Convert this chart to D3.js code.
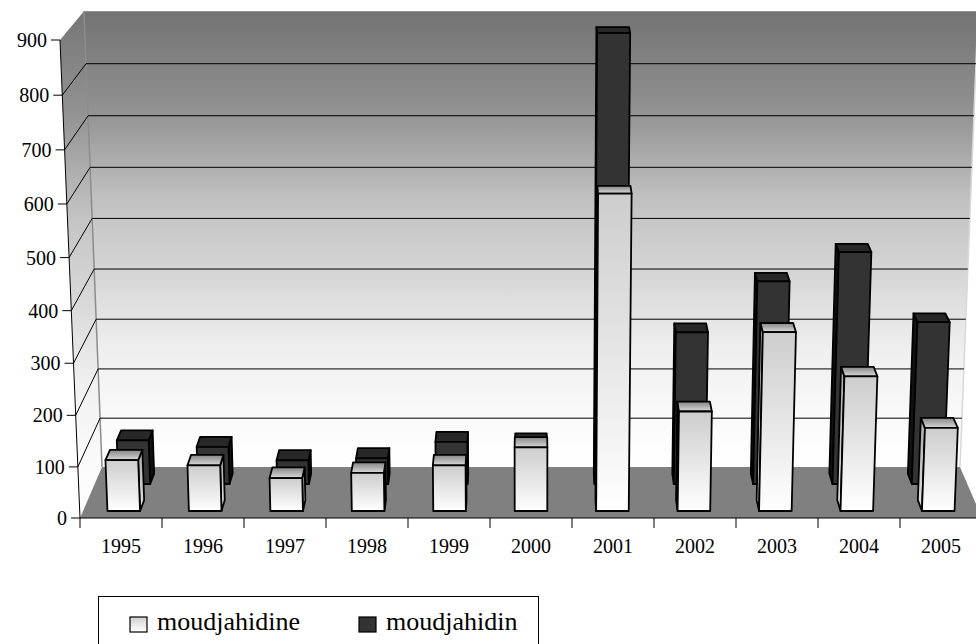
<!DOCTYPE html>
<html>
<head>
<meta charset="utf-8">
<script src="https://cdn.jsdelivr.net/npm/d3@7/dist/d3.min.js"></script>
<style>
  html, body { margin: 0; padding: 0; background: #fff; }
  svg { display: block; }
</style>
</head>
<body>
<svg id="chart" width="976" height="644"></svg>
<script>
// Yearly counts, two series drawn as rows of 3D columns
const years = ['1995', '1996', '1997', '1998', '1999', '2000', '2001', '2002', '2003', '2004', '2005'];
const moudjahidine = [100, 90, 65, 75, 90, 125, 610, 195, 348, 263, 163];
const moudjahidin = [88, 75, 48, 52, 85, 82, 877, 303, 403, 460, 323];
const valueTicks = [0, 100, 200, 300, 400, 500, 600, 700, 800, 900];
const seriesNames = ['moudjahidine', 'moudjahidin'];

const FONT = "'Liberation Serif', 'Times New Roman', Times, 'DejaVu Serif', serif";
const svg = d3.select('#chart').attr('font-family', FONT);
const defs = svg.append('defs');

// Front-plane scales; depth is applied by a perspective divide
const xScale = d3.scaleLinear().domain([0, years.length]).range([80, 982]);
const yScale = d3.scaleLinear().domain([0, 900]).range([518, 38.3]);
const wScale = d3.scaleLinear().domain([0, 900]).range([1, 0.9575]);
const VX = 531, DEPTH_Q = 0.0513, DEPTH_N = -27.04;

function proj(X, Y, Z) {
  const w = wScale(Y) + DEPTH_Q * Z;
  return [VX + (xScale(X) - VX) / w, (yScale(Y) + DEPTH_N * Z) / w];
}
const poly = pts => 'M' + pts.map(p => p[0].toFixed(2) + ',' + p[1].toFixed(2)).join('L') + 'Z';

// Gradients
function vGrad(id, stops, user) {
  const g = defs.append('linearGradient').attr('id', id)
    .attr('x1', 0).attr('y1', 0).attr('x2', 0).attr('y2', 1);
  if (user) g.attr('gradientUnits', 'userSpaceOnUse').attr('y1', user[0]).attr('y2', user[1]);
  stops.forEach(s => g.append('stop').attr('offset', s[0]).attr('stop-color', s[1]));
}
vGrad('wallGrad', [[0, '#737373'], [0.2, '#8e8e8e'], [0.41, '#c0c0c0'], [0.6, '#d9d9d9'],
  [0.74, '#efefef'], [0.9, '#fafafa'], [1, '#ffffff']], [11, 467]);
vGrad('sideWallGrad', [[0, '#767676'], [0.2, '#929292'], [0.41, '#c4c4c4'], [0.6, '#dcdcdc'],
  [0.74, '#f1f1f1'], [0.9, '#fbfbfb'], [1, '#ffffff']], [11, 518]);
vGrad('lightFront', [[0, '#cdcdcd'], [1, '#ffffff']]);
vGrad('lightTop', [[0, '#858585'], [1, '#dadada']]);
vGrad('lightSide', [[0, '#a8a8a8'], [1, '#e6e6e6']]);
vGrad('legendLight', [[0, '#d0d0d0'], [1, '#ffffff']]);

const Y_MAX = 900, NX = years.length;

// Walls and floor
svg.append('path').attr('d', poly([proj(0, 0, 1), proj(NX, 0, 1), proj(NX, Y_MAX, 1), proj(0, Y_MAX, 1)]))
  .attr('fill', 'url(#wallGrad)');
svg.append('path').attr('d', poly([proj(0, 0, 0), proj(0, Y_MAX, 0), proj(0, Y_MAX, 1), proj(0, 0, 1)]))
  .attr('fill', 'url(#sideWallGrad)');
svg.append('path').attr('d', poly([proj(0, 0, 0), proj(NX, 0, 0), proj(NX, 0, 1), proj(0, 0, 1)]))
  .attr('fill', '#808080');

// Wall edges
const edge = (a, b, c, w) => svg.append('line')
  .attr('x1', a[0]).attr('y1', a[1]).attr('x2', b[0]).attr('y2', b[1])
  .attr('stroke', c).attr('stroke-width', w);
edge(proj(0, 0, 1), proj(0, Y_MAX, 1), '#8c8c8c', 1.5);
edge(proj(NX, 0, 1), proj(NX, Y_MAX, 1), '#d8d8d8', 1.5);

// Gridlines on back and side walls
const grid = svg.append('g').attr('stroke', '#000').attr('stroke-width', 1);
valueTicks.filter(t => t > 0 && t < Y_MAX).forEach(t => {
  const a = proj(0, t, 1), b = proj(NX, t, 1), c = proj(0, t, 0);
  grid.append('line').attr('x1', a[0]).attr('y1', a[1]).attr('x2', b[0]).attr('y2', b[1]);
  grid.append('line').attr('x1', c[0]).attr('y1', c[1]).attr('x2', a[0]).attr('y2', a[1]);
});

// Value axis along the front edge of the side wall
edge(proj(0, 0, 0), proj(0, Y_MAX, 0), '#000', 1);
const yAxis = svg.append('g');
valueTicks.forEach(t => {
  const p = proj(0, t, 0);
  yAxis.append('line').attr('x1', p[0] - 9).attr('x2', p[0]).attr('y1', p[1]).attr('y2', p[1])
    .attr('stroke', '#000');
  yAxis.append('text').attr('x', p[0] - 13).attr('y', p[1]).attr('dy', '0.35em')
    .attr('text-anchor', 'end').attr('font-size', 20).attr('font-family', FONT).text(t);
});

// Category axis
edge(proj(0, 0, 0), proj(NX, 0, 0), '#000', 1.2);
const xAxis = svg.append('g');
d3.range(NX + 1).forEach(i => {
  const x = xScale(i);
  xAxis.append('line').attr('x1', x).attr('x2', x).attr('y1', 518).attr('y2', 528).attr('stroke', '#000');
});
years.forEach((yr, i) => {
  xAxis.append('text').attr('x', xScale(i + 0.5)).attr('y', 553)
    .attr('text-anchor', 'middle').attr('font-size', 20).attr('font-family', FONT).text(yr);
});

// Columns
const HALF = 0.2;
const rows = [
  { values: moudjahidin, z0: 0.655, z1: 0.865, front: '#333333', top: '#282828', side: '#111111' },
  { values: moudjahidine, z0: 0.1315, z1: 0.34, front: 'url(#lightFront)', top: 'url(#lightTop)', side: 'url(#lightSide)' }
];
rows.forEach(row => {
  const g = svg.append('g').attr('stroke', '#000').attr('stroke-width', 1.8).attr('stroke-linejoin', 'round');
  row.values.forEach((v, i) => {
    const X0 = i + 0.5 - HALF, X1 = i + 0.5 + HALF, z0 = row.z0, z1 = row.z1;
    if (xScale(X0) > VX) {
      g.append('path').attr('d', poly([proj(X0, 0, z0), proj(X0, v, z0), proj(X0, v, z1), proj(X0, 0, z1)]))
        .attr('fill', row.side);
    } else if (xScale(X1) < VX) {
      g.append('path').attr('d', poly([proj(X1, 0, z0), proj(X1, v, z0), proj(X1, v, z1), proj(X1, 0, z1)]))
        .attr('fill', row.side);
    }
    g.append('path').attr('d', poly([proj(X0, v, z0), proj(X1, v, z0), proj(X1, v, z1), proj(X0, v, z1)]))
      .attr('fill', row.top);
    g.append('path').attr('d', poly([proj(X0, 0, z0), proj(X1, 0, z0), proj(X1, v, z0), proj(X0, v, z0)]))
      .attr('fill', row.front);
  });
});

// Legend
const legend = svg.append('g');
legend.append('rect').attr('x', 98.5).attr('y', 596.5).attr('width', 440).attr('height', 70)
  .attr('fill', '#fff').attr('stroke', '#000');
const legendItems = [
  { name: seriesNames[0], fill: 'url(#legendLight)', x: 130 },
  { name: seriesNames[1], fill: '#333333', x: 359 }
];
legendItems.forEach(it => {
  legend.append('rect').attr('x', it.x).attr('y', 617).attr('width', 17).attr('height', 15)
    .attr('fill', it.fill).attr('stroke', '#000').attr('stroke-width', 1.2);
  legend.append('text').attr('x', it.x + 27).attr('y', 630).attr('font-size', 26)
    .attr('font-family', FONT).text(it.name);
});
</script>
</body>
</html>
